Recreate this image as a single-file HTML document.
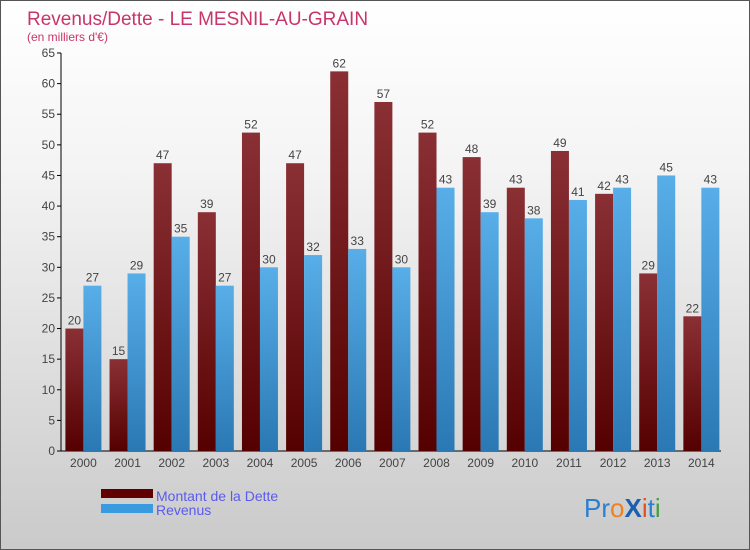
<!DOCTYPE html>
<html><head><meta charset="utf-8"><style>
body{margin:0}
#c{width:750px;height:550px;position:relative;overflow:hidden;font-family:"Liberation Sans",sans-serif;background:linear-gradient(#fff,#f4f4f4 30%,#cacaca);box-sizing:border-box;border:1px solid #555}
</style></head><body>
<div id="c">
<svg id="s" width="750" height="550">
<defs>
<linearGradient id="gd" x1="0" y1="0" x2="0" y2="1"><stop offset="0" stop-color="#8a3035"/><stop offset="1" stop-color="#550000"/></linearGradient>
<linearGradient id="gr" x1="0" y1="0" x2="0" y2="1"><stop offset="0" stop-color="#58aee8"/><stop offset="1" stop-color="#2a78b4"/></linearGradient>
</defs>
<text x="26" y="24" font-size="19" fill="#c8356a">Revenus/Dette - LE MESNIL-AU-GRAIN</text>
<text x="26" y="40" font-size="12" fill="#c8356a">(en milliers d'€)</text>
<g id="g"></g>
<rect x="100" y="488" width="52" height="9" fill="#600000"/>
<rect x="100" y="503" width="52" height="9" fill="#3a9ae0"/>
<text x="155" y="500" font-size="14" fill="#5a5af0">Montant de la Dette</text>
<text x="155" y="514" font-size="14" fill="#5a5af0">Revenus</text>
<text x="583" y="516" font-size="26"><tspan fill="#2a7fd0">Pr</tspan><tspan fill="#f08020">o</tspan><tspan fill="#1a5fb0" font-weight="bold">X</tspan><tspan fill="#e05020">i</tspan><tspan fill="#2a7fd0">t</tspan><tspan fill="#40a040">i</tspan></text>
</svg>
</div>
<script>
const years=["2000","2001","2002","2003","2004","2005","2006","2007","2008","2009","2010","2011","2012","2013","2014"];
const dette=[20,15,47,39,52,47,62,57,52,48,43,49,42,29,22];
const revenus=[27,29,35,27,30,32,33,30,43,39,38,41,43,45,43];
const ticks=[0,5,10,15,20,25,30,35,40,45,50,55,60,65];
const NS="http://www.w3.org/2000/svg",g=document.getElementById('g');
const y=v=>450-v*398/65, xc=i=>82.4+i*44.14;
function mk(t,a,p){const e=document.createElementNS(NS,t);for(const k in a)e.setAttribute(k,a[k]);(p||g).appendChild(e);return e;}
let ax=mk('line',{x1:60,y1:450,x2:720,y2:450,stroke:'#000'});


let ay=mk('line',{x1:60,y1:52,x2:60,y2:450,stroke:'#000'});


ticks.forEach(t=>{
 mk('line',{x1:56,x2:60,y1:y(t),y2:y(t),stroke:'#000'});
 const tx=mk('text',{x:54,y:y(t)+4,'text-anchor':'end','font-size':12,fill:'#444'});tx.textContent=t;
 
 
});
years.forEach((yr,i)=>{
 const c=xc(i);
 const b1=mk('rect',{x:c-18,y:y(dette[i]),width:18,height:450-y(dette[i]),fill:'url(#gd)'});
 
 
 const b2=mk('rect',{x:c,y:y(revenus[i]),width:18,height:450-y(revenus[i]),fill:'url(#gr)'});
 
 
 const l1=mk('text',{x:c-9,y:y(dette[i])-4,'text-anchor':'middle','font-size':12,fill:'#444'});l1.textContent=dette[i];
 
 
 const l2=mk('text',{x:c+9,y:y(revenus[i])-4,'text-anchor':'middle','font-size':12,fill:'#444'});l2.textContent=revenus[i];
 
 
 const xl=mk('text',{x:c,y:466,'text-anchor':'middle','font-size':12,fill:'#444'});xl.textContent=yr;
 
 
});
</script>
</body></html>
